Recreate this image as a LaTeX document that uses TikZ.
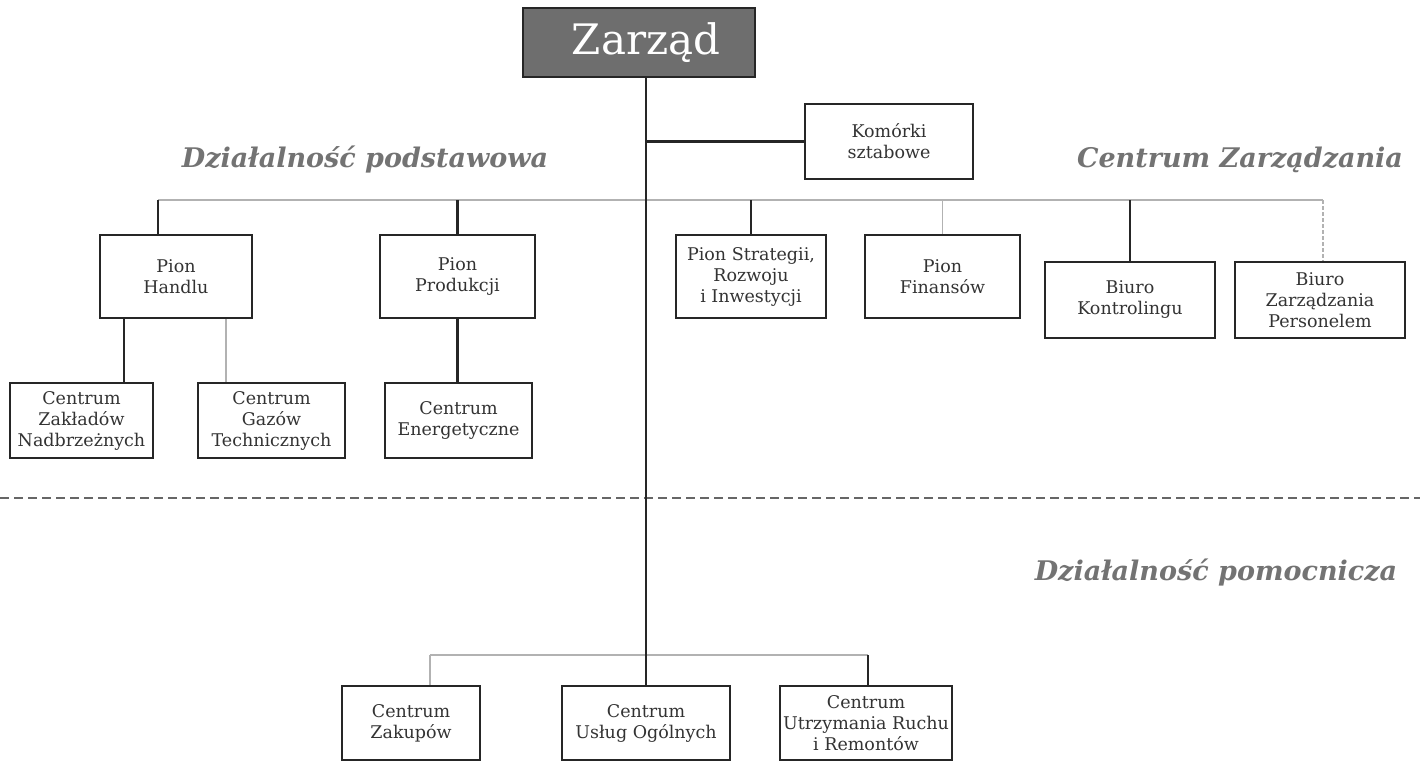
\documentclass[tikz,border=0pt]{standalone}
\usepackage{fontspec}
\setmainfont{DejaVu Serif}
\begin{document}
\begin{tikzpicture}[x=1pt,y=-1pt,
  box/.style={draw=black!85, line width=2.8pt, fill=white, align=center, inner sep=1pt,
    font=\fontsize{17.5}{21}\selectfont, text=black!80},
  darkln/.style={draw=black!85, line width=2.8pt},
  lightln/.style={draw=black!30, line width=1.8pt},
  lbl/.style={font=\fontsize{27}{31}\selectfont\bfseries\itshape, text=black!55},
  sepline/.style={draw=black!60, line width=1.8pt, dash pattern=on 9pt off 5pt}]
\useasboundingbox (0,0) rectangle (1420,762);

% top
\node[box, fill=black!57, text=white, minimum width=232pt, minimum height=69pt,
  font=\fontsize{42}{46}\selectfont] (zarzad) at (639,42.5) {\hspace*{14pt}Zarząd};
\node[box, minimum width=168pt, minimum height=75pt] (komorki) at (889,141.5) {Komórki\\sztabowe};

% labels
\node[lbl] (lpodst) at (365,160) {Działalność podstawowa};
\node[lbl] (lzarz) at (1240,160) {Centrum Zarządzania};
\node[lbl] (lpomoc) at (1216,573) {Działalność pomocnicza};

% level 2
\node[box, minimum width=152pt, minimum height=83pt] (handel) at (176,276.5) {Pion\\Handlu};
\node[box, minimum width=155pt, minimum height=83pt] (produkcja) at (457.5,276.5) {Pion\\Produkcji};
\node[box, minimum width=150pt, minimum height=83pt] (strategia) at (751,276.5) {Pion Strategii,\\Rozwoju\\i Inwestycji};
\node[box, minimum width=155pt, minimum height=83pt] (finanse) at (942.5,276.5) {Pion\\Finansów};
\node[box, minimum width=170pt, minimum height=76pt] (kontroling) at (1130,300) {Biuro\\Kontrolingu};
\node[box, minimum width=170pt, minimum height=76pt] (personel) at (1320,300) {Biuro\\Zarządzania\\Personelem};

% level 3
\node[box, minimum width=143pt, minimum height=75pt] (zaklady) at (81.5,420.5) {Centrum\\Zakładów\\Nadbrzeżnych};
\node[box, minimum width=147pt, minimum height=75pt] (gazy) at (271.5,420.5) {Centrum\\Gazów\\Technicznych};
\node[box, minimum width=147pt, minimum height=75pt] (energia) at (458.5,420.5) {Centrum\\Energetyczne};

% bottom
\node[box, minimum width=138pt, minimum height=74pt] (zakupy) at (411,723) {Centrum\\Zakupów};
\node[box, minimum width=168pt, minimum height=74pt] (uslugi) at (646,723) {Centrum\\Usług Ogólnych};
\node[box, minimum width=172pt, minimum height=74pt] (utrzymanie) at (866,723) {Centrum\\Utrzymania Ruchu\\i Remontów};

% separator
\coordinate (dL) at (0,498);
\coordinate (dR) at (1420,498);
\draw[sepline] (dL) -- (dR);

% upper bus
\coordinate (b1) at (158,200);
\coordinate (b2) at (1323,200);
\draw[lightln] (b1) -- (b2);
\draw[darkln] (b1) -- (b1 |- handel.north);
\draw[darkln] (produkcja.north |- b1) -- (produkcja.north);
\draw[darkln] (strategia.north |- b1) -- (strategia.north);
\draw[lightln] (finanse.north |- b1) -- (finanse.north);
\draw[darkln] (kontroling.north |- b1) -- (kontroling.north);
\draw[lightln, dash pattern=on 4pt off 2pt] (b2) -- (b2 |- personel.north);

% level 3 connectors
\draw[darkln] ([xshift=-52pt]handel.south) -- ([xshift=-52pt]handel.south |- zaklady.north);
\draw[lightln] ([xshift=50pt]handel.south) -- ([xshift=50pt]handel.south |- gazy.north);
\draw[darkln] (produkcja.south) -- (produkcja.south |- energia.north);

% bottom bus
\coordinate (c1) at (430,655);
\coordinate (c2) at (868,655);
\draw[lightln] (c1) -- (c2);
\draw[lightln] (c1) -- (c1 |- zakupy.north);
\draw[darkln] (c2) -- (c2 |- utrzymanie.north);

% main spine
\draw[darkln] (zarzad.south -| uslugi.north) -- (uslugi.north);
\draw[darkln] (komorki.west -| uslugi.north) -- (komorki.west);
\end{tikzpicture}
\end{document}
